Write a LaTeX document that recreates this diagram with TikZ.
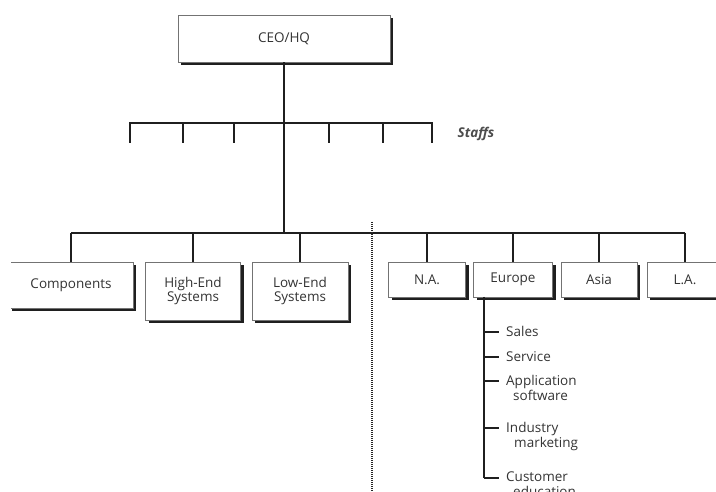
\documentclass[tikz,border=0pt]{standalone}
\usepackage{fontspec}
\setmainfont{Open Sans}
\usepackage{tikz}
\usetikzlibrary{shadows}

\begin{document}
\begin{tikzpicture}[
    x=1pt, y=-1pt,
    line/.style={draw=black!88, line width=1.6pt},
    unit/.style={draw=black!55,
                 line width=0.6pt,
                 fill=white,
                 align=center,
                 inner sep=0pt,
                 text=black!80,
                 font=\fontsize{13.5}{14.5}\selectfont,
                 drop shadow={shadow xshift=3pt, shadow yshift=-3pt, fill=black!88, opacity=1}},
    item/.style={anchor=north west,
                 align=left,
                 inner xsep=7pt,
                 inner ysep=0pt,
                 text=black!80,
                 font=\fontsize{13.5}{15}\selectfont}]

    \useasboundingbox (0,0) rectangle (716,492);
    \clip (11,0) rectangle (716,492);

    \node[unit, minimum width=212pt, minimum height=47pt] (ceo) at (284,38.5) {CEO/HQ};

    \coordinate (staffbar) at (284,123);
    \coordinate (staffL) at (130,123);
    \coordinate (staffR) at (432,123);
    \coordinate (bar) at (284,233);

    \draw[line] (ceo.south) -- (bar);
    \draw[line] ([yshift=-20pt]staffL) -- (staffL) -- (staffR) -- ([yshift=-20pt]staffR);
    \foreach \x in {183,234,329,383}
        \draw[line] (\x,123) -- (\x,143);
    \node[font=\fontsize{13.5}{14.5}\selectfont\itshape\bfseries, text=black!70] (staffs) at (476,134) {Staffs};

    \node[unit, minimum width=124pt, minimum height=46pt] (comp) at (71,285) {Components};
    \node[unit, minimum width=95pt, minimum height=58pt] (high) at (193,291) {High-End\\Systems};
    \node[unit, minimum width=96pt, minimum height=58pt] (low) at (300,291) {Low-End\\Systems};

    \node[unit, minimum width=77pt, minimum height=35pt] (na) at (427,279.5) {N.A.};
    \node[unit, minimum width=79pt, minimum height=35pt] (europe) at (513,279.5) {Europe};
    \node[unit, minimum width=76pt, minimum height=35pt] (asia) at (599,279.5) {Asia};
    \node[unit, minimum width=76pt, minimum height=35pt] (la) at (685,279.5) {L.A.};

    \draw[line] (comp.north |- bar) -- (la.north |- bar);
    \foreach \n in {comp,high,low,na,europe,asia,la}
        \draw[line] (\n.north |- bar) -- (\n.north);

    \draw[black!85, line width=1.6pt, dash pattern=on 1pt off 1pt] (372,222) -- (372,492);

    \coordinate (eutop) at (484,297);
    \coordinate (s1) at (484,332);
    \coordinate (s2) at (484,357);
    \coordinate (s3) at (484,381);
    \coordinate (s4) at (484,428);
    \coordinate (s5) at (484,478);

    \node[item] (sales) at (499,326) {Sales};
    \node[item] (service) at (499,351) {Service};
    \node[item] (appsw) at (499,375) {Application\\\hspace*{7pt}software};
    \node[item] (indmkt) at (499,422) {Industry\\\hspace*{8pt}marketing};
    \node[item] (custedu) at (499,472) {Customer\\\hspace*{7pt}education};

    \draw[line] (eutop) -- (s5);
    \foreach \s/\n in {s1/sales,s2/service,s3/appsw,s4/indmkt,s5/custedu}
        \draw[line] (\s) -- (\s -| \n.west);

\end{tikzpicture}
\end{document}
